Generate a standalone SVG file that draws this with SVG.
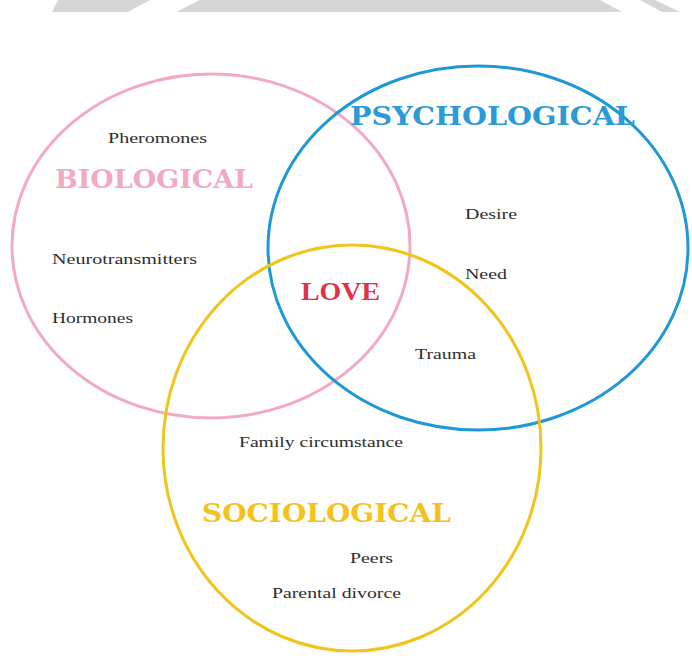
<svg xmlns="http://www.w3.org/2000/svg" width="692" height="667" viewBox="0 0 692 667">
<style>
.ring{fill:none;stroke-width:3}
.item{font-family:'Liberation Serif',serif;font-size:15px;fill:#2e2e2e}
.title{font-family:'DejaVu Serif',serif;font-weight:bold;font-size:26px}
</style>
<rect width="692" height="667" fill="#fff"/>
<g id="topbar">
<rect x="0" y="0" width="692" height="12" fill="#d6d6d6"/>
<polygon points="0,0 58,0 52,12 0,12" fill="#fff"/>
<polygon points="150,0 200,0 176,12 128,12" fill="#fff"/>
<polygon points="600,0 640,0 662,12 622,12" fill="#fff"/>
<polygon points="655,0 692,0 692,12 680,12" fill="#fff"/>
</g>
<g id="connectors"></g>
<g id="biological">
<ellipse class="ring" cx="211" cy="246" rx="199" ry="172" stroke="#f2a9c2"/>
<text class="title" x="55" y="188" fill="#f2a9c2" textLength="198" lengthAdjust="spacingAndGlyphs">BIOLOGICAL</text>
<text class="item" x="108" y="143" textLength="99" lengthAdjust="spacingAndGlyphs">Pheromones</text>
<text class="item" x="52" y="264" textLength="145" lengthAdjust="spacingAndGlyphs">Neurotransmitters</text>
<text class="item" x="52" y="323" textLength="81" lengthAdjust="spacingAndGlyphs">Hormones</text>
</g>
<g id="psychological">
<ellipse class="ring" cx="478" cy="248" rx="210" ry="182" stroke="#1e98d6"/>
<text class="title" x="350" y="125" fill="#2a9ad8" textLength="285" lengthAdjust="spacingAndGlyphs">PSYCHOLOGICAL</text>
<text class="item" x="465" y="219" textLength="52" lengthAdjust="spacingAndGlyphs">Desire</text>
<text class="item" x="465" y="279" textLength="42" lengthAdjust="spacingAndGlyphs">Need</text>
<text class="item" x="415" y="359" textLength="61" lengthAdjust="spacingAndGlyphs">Trauma</text>
</g>
<g id="sociological">
<ellipse class="ring" cx="352" cy="448" rx="189" ry="203" stroke="#f0c419"/>
<text class="title" x="202" y="522" fill="#f4c21c" textLength="249" lengthAdjust="spacingAndGlyphs">SOCIOLOGICAL</text>
<text class="item" x="239" y="447" textLength="164" lengthAdjust="spacingAndGlyphs">Family circumstance</text>
<text class="item" x="350" y="563" textLength="43" lengthAdjust="spacingAndGlyphs">Peers</text>
<text class="item" x="272" y="598" textLength="129" lengthAdjust="spacingAndGlyphs">Parental divorce</text>
</g>
<g id="love">
<text x="301" y="300" font-family="'Liberation Serif', serif" font-weight="bold" font-size="26px" fill="#e0324c" textLength="79" lengthAdjust="spacingAndGlyphs">LOVE</text>
</g>
</svg>
